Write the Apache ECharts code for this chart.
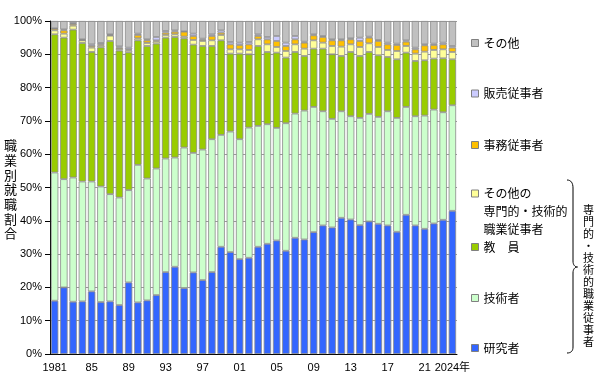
<!DOCTYPE html>
<html>
<head>
<meta charset="utf-8">
<script src="https://cdn.jsdelivr.net/npm/echarts@6/dist/echarts.min.js"></script>
<style>html,body{margin:0;padding:0;background:#fff}#c{width:600px;height:389px}</style>
</head>
<body>
<div id="c"></div>
<script>
const years = ['1981','1982','1983','1984','1985','1986','1987','1988','1989','1990',
  '1991','1992','1993','1994','1995','1996','1997','1998','1999','2000',
  '2001','2002','2003','2004','2005','2006','2007','2008','2009','2010',
  '2011','2012','2013','2014','2015','2016','2017','2018','2019','2020',
  '2021','2022','2023','2024'];
const yTicks = [0,10,20,30,40,50,60,70,80,90,100];

const researchers = [16.0,20.0,15.7,15.8,18.8,15.6,15.8,14.7,21.5,15.5,
  16.1,17.7,24.6,26.2,19.8,24.5,22.2,24.6,32.2,30.6,
  28.5,28.9,32.2,33.1,34.1,31.0,34.9,34.4,36.6,38.6,
  38.0,40.9,40.4,38.7,39.8,39.1,38.6,36.7,41.8,38.6,
  37.6,39.2,40.3,43.0];
const engineers = [38.5,32.5,37.3,36.0,33.0,34.7,32.2,32.3,27.7,41.3,
  36.6,38.0,34.1,32.8,42.2,35.9,39.2,39.9,33.6,36.2,
  36.0,39.1,36.3,35.9,33.8,38.3,37.3,38.7,37.6,34.3,
  32.6,32.0,31.0,32.2,32.3,32.1,34.3,34.2,32.4,32.8,
  34.0,34.2,32.3,31.7];
const teachers = [41.5,42.5,44.4,41.6,38.9,41.8,46.0,44.1,41.4,37.4,
  39.8,37.5,36.3,36.2,32.8,32.5,31.1,28.0,28.4,23.4,
  25.7,22.0,24.0,21.7,22.6,19.7,18.5,16.4,17.5,18.8,
  19.4,16.6,19.3,18.6,18.6,18.5,16.3,17.6,16.3,16.6,
  16.6,15.3,16.2,13.8];
const otherProf = [1.2,1.2,1.2,0.8,1.3,0.5,1.6,0.5,0.6,0.6,
  0.9,0.6,0.8,0.8,0.5,1.4,1.5,1.7,1.6,1.3,
  1.3,1.3,2.0,2.3,1.7,2.0,2.3,2.2,2.5,1.8,
  2.5,2.8,2.3,2.7,2.6,2.5,2.1,2.5,2.0,2.2,
  2.6,2.6,2.7,2.2];
const clerical = [0.5,1.0,0.5,0.1,0.5,0.4,0.2,0.4,0.3,1.0,
  0.8,0.4,0.7,0.8,1.5,1.2,0.4,1.3,0.7,1.5,
  1.3,1.7,1.0,1.5,1.8,1.5,1.5,1.8,1.5,1.7,
  1.7,1.9,1.5,1.8,1.7,1.8,1.7,1.8,1.3,1.3,
  1.9,1.5,1.5,1.3];
const sales = [0.1,0.3,0.3,0.2,0.5,0.4,0.2,0.4,0.5,0.4,
  0.3,1.0,0.5,0.4,0.1,0.7,0.3,0.5,0.7,0.7,
  0.7,0.7,0.5,0.7,1.5,1.0,1.0,0.3,0.3,0.3,
  0.3,0.3,0.3,1.0,0.3,0.3,0.5,0.4,0.4,0.5,
  0.3,0.4,0.5,0.5];
const others = [2.2,2.5,0.6,5.5,7.0,6.6,4.0,7.6,8.0,3.8,
  5.5,4.8,3.0,2.8,3.1,3.8,5.3,4.0,2.8,6.3,
  6.5,6.3,4.0,4.8,4.5,6.5,4.5,6.2,4.0,4.5,
  5.5,5.5,5.2,5.0,4.7,5.7,6.5,6.8,5.8,8.0,
  7.0,6.8,6.5,7.5];

const seriesNames = ['研究者','技術者','教　員','その他の専門的・技術的職業従事者','事務従事者','販売従事者','その他'];
const seriesData = [researchers, engineers, teachers, otherProf, clerical, sales, others];
const colors = ['#3366FF','#CCFFCC','#99CC00','#FFFF99','#FFC000','#CCCCFF','#C0C0C0'];

const FONT = "'Liberation Sans','Noto Sans CJK JP',sans-serif";
const JFONT = "'Noto Sans CJK JP',sans-serif";

const chart = echarts.init(document.getElementById('c'), null, {renderer: 'canvas'});

function mkLegend(i, top, fmt) {
  const l = {
    data: [seriesNames[i]], left: 471, top: top, orient: 'vertical',
    itemWidth: 7, itemHeight: 7, icon: 'rect', padding: 0, itemGap: 0,
    selectedMode: false,
    itemStyle: {borderColor: '#808080', borderWidth: 1},
    textStyle: {fontSize: 12, lineHeight: 18, fontFamily: JFONT, color: '#000'}
  };
  if (fmt) l.formatter = fmt;
  return l;
}

const option = {
  animation: false,
  color: colors,
  grid: {left: 50, right: 143, top: 21, bottom: 35},
  xAxis: {
    type: 'category', data: years,
    axisLine: {lineStyle: {color: '#000', width: 1}},
    axisTick: {show: false},
    axisLabel: {
      interval: (idx) => idx % 4 === 0 || idx === years.length - 1,
      formatter: (v, idx) => idx === 0 ? v : (idx === years.length - 1 ? v + '年' : v.slice(2)),
      color: '#000', fontSize: 11, fontFamily: FONT, margin: 8
    }
  },
  yAxis: {
    type: 'value', min: 0, max: 100, interval: 10,
    axisLine: {show: true, lineStyle: {color: '#000', width: 1}},
    axisTick: {show: true, length: 5, lineStyle: {color: '#000'}},
    axisLabel: {formatter: (v) => yTicks.includes(v) ? v + '%' : '', color: '#000', fontSize: 11, fontFamily: FONT, margin: 8},
    splitLine: {show: true, lineStyle: {color: '#9a9a9a', width: 1}}
  },
  legend: [
    mkLegend(6, 43 - 9),
    mkLegend(5, 93.5 - 9),
    mkLegend(4, 145 - 9),
    mkLegend(3, 193.5 - 45, () => '\n\nその他の\n専門的・技術的\n職業従事者'),
    mkLegend(2, 247 - 9),
    mkLegend(1, 298 - 9),
    mkLegend(0, 348 - 9)
  ],
  series: seriesData.map((d, i) => ({
    name: seriesNames[i], type: 'bar', stack: 'total', data: d,
    barCategoryGap: '20%',
    itemStyle: {color: colors[i], borderColor: '#8a8a8a', borderWidth: 0.8},
    emphasis: {disabled: true}
  })),
  graphic: [
    {type: 'text', left: 4, top: 138, style: {
      text: '職\n業\n別\n就\n職\n割\n合', fontSize: 13, lineHeight: 14.7,
      fontFamily: JFONT, fill: '#000', align: 'center'}},
    {type: 'text', left: 583, top: 204, style: {
      text: '専\n門\n的\n・\n技\n術\n的\n職\n業\n従\n事\n者', fontSize: 11, lineHeight: 12,
      fontFamily: JFONT, fill: '#000', align: 'center'}},
    {type: 'bezierCurve', shape: {x1: 567, y1: 180, cpx1: 571, cpy1: 180, cpx2: 573, cpy2: 183, x2: 573, y2: 188}, style: {stroke: '#000', lineWidth: 1, fill: null}},
    {type: 'line', shape: {x1: 573, y1: 188, x2: 573, y2: 261}, style: {stroke: '#000', lineWidth: 1}},
    {type: 'bezierCurve', shape: {x1: 573, y1: 261, cpx1: 573, cpy1: 265, cpx2: 575, cpy2: 267, x2: 577.5, y2: 267}, style: {stroke: '#000', lineWidth: 1, fill: null}},
    {type: 'bezierCurve', shape: {x1: 577.5, y1: 267, cpx1: 575, cpy1: 267, cpx2: 573, cpy2: 269, x2: 573, y2: 273}, style: {stroke: '#000', lineWidth: 1, fill: null}},
    {type: 'line', shape: {x1: 573, y1: 273, x2: 573, y2: 347}, style: {stroke: '#000', lineWidth: 1}},
    {type: 'bezierCurve', shape: {x1: 573, y1: 347, cpx1: 573, cpy1: 351, cpx2: 571, cpy2: 353, x2: 567, y2: 353}, style: {stroke: '#000', lineWidth: 1, fill: null}}
  ]
};
chart.setOption(option);
</script>
</body>
</html>
